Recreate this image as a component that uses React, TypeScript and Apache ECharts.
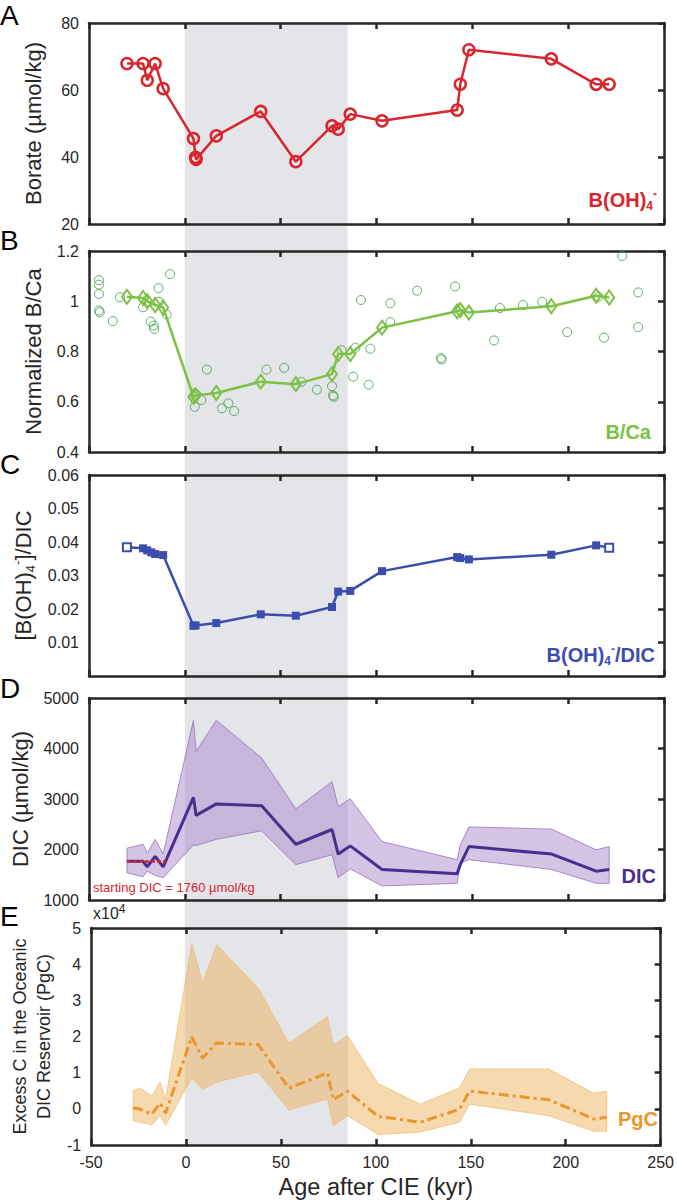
import React, { useEffect, useRef } from "react";
import * as echarts from "echarts";

// ---------- shared x axis ----------
const ageMin = -50;
const ageMax = 250;
const ageStep = 50;
const cieShade = [0, 85];

// ---------- Panel A : borate ----------
const borateAge = [-30.2, -21.8, -19.6, -15.5, -11.3, 4.5, 5.6, 5.9, 16.4, 39.6, 57.9, 76.8, 80.0, 86.3, 102.9, 142.1, 143.7, 148.2, 191.2, 214.6, 221.4];
const borate = [67.9, 67.9, 62.9, 67.9, 60.4, 45.5, 39.9, 39.3, 46.3, 53.6, 38.6, 49.3, 48.3, 52.8, 50.8, 54.0, 61.7, 72.0, 69.3, 61.7, 61.7];

// ---------- Panel B : normalized B/Ca ----------
const bcaAge = [-30.2, -21.8, -19.6, -15.5, -11.3, 4.5, 5.6, 16.4, 39.6, 57.9, 76.8, 80.0, 86.3, 102.9, 142.1, 143.7, 148.2, 191.2, 214.6, 221.4];
const bca = [1.018, 1.013, 1.0, 0.985, 0.975, 0.62, 0.625, 0.635, 0.68, 0.67, 0.71, 0.79, 0.79, 0.895, 0.96, 0.965, 0.955, 0.98, 1.022, 1.015];
const bcaRawAge = [-44.8, -44.8, -44.8, -44.8, -44.4, -37.6, -33.8, -21.8, -17.8, -16.2, -16.0, -13.7, -13.5, -9.5, -7.7, 5.2, 5.9, 8.6, 11.5, 19.4, 22.7, 25.7, 42.6, 51.8, 60.8, 68.9, 76.8, 77.3, 77.7, 81.8, 87.8, 89.0, 91.9, 95.9, 96.8, 107.2, 107.2, 121.2, 133.6, 134.0, 141.0, 161.3, 164.4, 176.4, 186.5, 199.5, 215.8, 218.7, 228.2, 236.5, 236.5];
const bcaRaw = [1.084, 1.066, 1.029, 0.963, 0.956, 0.921, 1.016, 0.976, 0.919, 0.903, 0.89, 1.052, 0.998, 0.947, 1.108, 0.58, 0.63, 0.607, 0.728, 0.574, 0.594, 0.563, 0.728, 0.735, 0.679, 0.648, 0.662, 0.625, 0.62, 0.805, 0.7, 0.815, 1.005, 0.668, 0.811, 0.992, 0.917, 1.042, 0.774, 0.768, 1.059, 0.844, 0.973, 0.985, 0.998, 0.877, 1.018, 0.855, 1.18, 1.035, 0.897];

// ---------- Panel C : [B(OH)4-]/DIC ----------
const ratioAge = [-30.2, -21.8, -19.6, -17.5, -15.5, -11.3, 4.5, 5.6, 16.4, 39.6, 57.9, 76.8, 80.0, 86.3, 102.9, 142.1, 143.7, 148.2, 191.2, 214.6, 221.4];
const ratio = [0.0384, 0.0381, 0.0375, 0.0369, 0.0364, 0.0361, 0.015, 0.0151, 0.0158, 0.0184, 0.018, 0.0206, 0.0252, 0.0254, 0.0313, 0.0355, 0.0352, 0.0348, 0.0362, 0.039, 0.0383];

// ---------- Panel D : DIC ----------
const dicAge = [-30.2, -21.8, -19.6, -15.5, -11.3, 4.5, 5.9, 16.4, 40.1, 57.9, 76.8, 80.0, 86.3, 102.9, 142.1, 143.7, 148.2, 191.4, 214.6, 221.4];
const dicMean = [1766, 1766, 1656, 1864, 1656, 3032, 2675, 2903, 2864, 2104, 2396, 1909, 2071, 1604, 1519, 1701, 2058, 1909, 1571, 1604];
const dicUpper = [2026, 2104, 1929, 2201, 1916, 4558, 3942, 4558, 3812, 2805, 3344, 2851, 3006, 2156, 1799, 2091, 2448, 2403, 1994, 2058];
const dicLower = [1539, 1461, 1571, 1487, 1442, 2091, 2078, 2201, 2370, 1701, 1896, 1442, 1617, 1279, 1331, 1734, 1799, 1604, 1331, 1331];
const startDicAge = [-30.2, -10];
const startDic = [1760, 1760];

// ---------- Panel E : excess C (x10^4 PgC) ----------
const pgcAge = [-27.9, -24.7, -18.0, -13.6, -10.8, 3.0, 8.7, 16.1, 38.0, 54.1, 74.5, 77.6, 85.0, 101.2, 123.4, 144.1, 149.3, 191.1, 214.8, 221.6];
const pgcMean = [0.02, 0.0, -0.15, 0.16, -0.12, 1.99, 1.4, 1.82, 1.78, 0.57, 0.99, 0.25, 0.49, -0.21, -0.37, -0.01, 0.49, 0.25, -0.28, -0.23];
const pgcUpper = [0.49, 0.58, 0.36, 0.74, 0.25, 4.57, 3.48, 4.54, 3.34, 1.81, 2.55, 1.76, 2.03, 0.7, 0.13, 0.58, 1.1, 1.1, 0.43, 0.49];
const pgcLower = [-0.32, -0.37, -0.44, -0.19, -0.46, 0.86, 0.54, 0.74, 1.02, -0.03, 0.27, -0.46, -0.19, -0.71, -0.64, -0.37, 0.13, -0.19, -0.62, -0.62];

// ---------- y axis ranges ----------
const yRanges = [
  { min: 20, max: 80, step: 20 },
  { min: 0.4, max: 1.2, step: 0.2 },
  { min: 0, max: 0.06, step: 0.01 },
  { min: 1000, max: 5000, step: 1000 },
  { min: -1, max: 5, step: 1 },
];

// ---------- styling / layout ----------
const FONT = "'Liberation Sans', Arial, Helvetica, sans-serif";
const INK = "#262626";
const RED = "#d9262e";
const GREEN = "#7cc044";
const GREEN_DARK = "#3a9a42";
const BLUE = "#3c4ead";
const PURPLE = "#4b2d8e";
const ORANGE = "#e9962b";
const SHADE = "#e3e5e8";

const layout = [
  { top: 23, height: 201, name: "Borate (µmol/kg)", gap: 44, size: 22 },
  { top: 251, height: 201, name: "Normalized B/Ca", gap: 44, size: 22 },
  { top: 475, height: 201, name: "{t|[B(OH)}{sub|4}{sup|-}{t|]/DIC}", gap: 44, size: 22 },
  { top: 698, height: 202, name: "DIC (µmol/kg)", gap: 44, size: 22 },
  { top: 928, height: 217, name: "Excess C in the Oceanic\nDIC Reservoir (PgC)", gap: 24, size: 18 },
];
const LEFT = 89;
const WIDTH = 575;

const pairs = (xs: number[], ys: number[]) => xs.map((x, i) => [x, ys[i]]);

function band(xs: number[], up: number[], lo: number[], fill: string, stroke: string, idx: number) {
  return {
    type: "custom",
    xAxisIndex: idx * 2,
    yAxisIndex: idx * 2,
    silent: true,
    z: 1,
    data: xs.map((x, i) => [x, up[i], lo[i]]),
    encode: { x: 0, y: [1, 2] },
    renderItem: (params: any, api: any) => {
      if (params.dataIndex !== 0) return null;
      const pts: number[][] = [];
      xs.forEach((x, i) => pts.push(api.coord([x, up[i]])));
      for (let i = xs.length - 1; i >= 0; i--) pts.push(api.coord([xs[i], lo[i]]));
      return { type: "polygon", shape: { points: pts }, style: { fill, stroke, lineWidth: 1 } };
    },
  };
}

export default function App() {
  const ref = useRef<HTMLDivElement>(null);

  useEffect(() => {
    document.body.style.margin = "0";
    const chart = echarts.init(ref.current!, null, { renderer: "svg" });

    const grid = layout.map((l) => ({ left: LEFT, width: WIDTH, top: l.top, height: l.height }));
    const frameLine = { show: true, onZero: false, lineStyle: { color: INK, width: 2.5 } };
    const xAxis: any[] = [];
    const yAxis: any[] = [];
    layout.forEach((l, i) => {
      const last = i === layout.length - 1;
      const baseX = {
        type: "value",
        gridIndex: i,
        min: ageMin,
        max: ageMax,
        interval: ageStep,
        splitLine: { show: false },
        axisLine: frameLine,
        axisTick: { show: true, inside: true, length: 6, lineStyle: { color: INK, width: 2.5 } },
      };
      xAxis.push({
        ...baseX,
        position: "bottom",
        axisLabel: { show: last, fontSize: 16, color: INK, fontFamily: FONT, margin: 9 },
        name: last ? "Age after CIE (kyr)" : "",
        nameLocation: "middle",
        nameGap: 30,
        nameTextStyle: { fontSize: 23.5, color: INK, fontFamily: FONT },
      });
      xAxis.push({ ...baseX, position: "top", axisLabel: { show: false } });
      const r = yRanges[i];
      const baseY = {
        type: "value",
        gridIndex: i,
        min: r.min,
        max: r.max,
        interval: r.step,
        splitLine: { show: false },
        axisLine: frameLine,
      };
      yAxis.push({
        ...baseY,
        position: "left",
        axisTick: { show: false },
        axisLabel: {
          fontSize: 16,
          color: INK,
          fontFamily: FONT,
          margin: 10,
          showMinLabel: i !== 2,
          formatter: (v: number) => (r.step >= 1 ? v.toFixed(0) : String(Number(v.toFixed(4)))),
        },
        name: l.name,
        nameLocation: "middle",
        nameRotate: 90,
        nameGap: l.gap,
        nameTextStyle: {
          fontSize: l.size,
          color: INK,
          fontFamily: FONT,
          lineHeight: 24,
          rich: {
            t: { fontSize: 22, color: INK, fontFamily: FONT, lineHeight: 26 },
            sub: { fontSize: 13, color: INK, fontFamily: FONT, verticalAlign: "bottom", lineHeight: 12 },
            sup: { fontSize: 13, color: INK, fontFamily: FONT, verticalAlign: "top", lineHeight: 12 },
          },
        },
      });
      yAxis.push({
        ...baseY,
        position: "right",
        axisTick: { show: true, inside: true, length: 6, lineStyle: { color: INK, width: 2.5 } },
        axisLabel: { show: false },
      });
    });

    const series: any[] = [
      // A
      {
        type: "line",
        xAxisIndex: 0,
        yAxisIndex: 0,
        data: pairs(borateAge, borate),
        symbol: "circle",
        symbolSize: 11,
        lineStyle: { color: RED, width: 2.5 },
        itemStyle: { color: "rgba(0,0,0,0)", borderColor: RED, borderWidth: 2.5 },
        z: 3,
      },
      // B scatter
      {
        type: "scatter",
        xAxisIndex: 2,
        yAxisIndex: 2,
        data: pairs(bcaRawAge, bcaRaw),
        symbol: "circle",
        symbolSize: 9,
        itemStyle: { color: "rgba(0,0,0,0)", borderColor: GREEN_DARK, borderWidth: 1 },
      },
      // B line
      {
        type: "line",
        xAxisIndex: 2,
        yAxisIndex: 2,
        data: pairs(bcaAge, bca),
        symbol: "diamond",
        symbolSize: [10, 14],
        lineStyle: { color: GREEN, width: 2.5 },
        itemStyle: { color: "rgba(0,0,0,0)", borderColor: GREEN, borderWidth: 2 },
        z: 3,
      },
      // C
      {
        type: "line",
        xAxisIndex: 4,
        yAxisIndex: 4,
        data: ratioAge.map((x, i) => {
          const open = i === 0 || i === ratioAge.length - 1;
          return open
            ? { value: [x, ratio[i]], itemStyle: { color: "#ffffff", borderColor: BLUE, borderWidth: 2 } }
            : { value: [x, ratio[i]] };
        }),
        symbol: "rect",
        symbolSize: 8,
        lineStyle: { color: BLUE, width: 2.5 },
        itemStyle: { color: BLUE },
        z: 3,
      },
      // D band + mean + start
      band(dicAge, dicUpper, dicLower, "rgba(165,125,200,0.45)", "rgba(150,115,190,0.8)", 3),
      {
        type: "line",
        xAxisIndex: 6,
        yAxisIndex: 6,
        data: pairs(dicAge, dicMean),
        symbol: "none",
        lineStyle: { color: PURPLE, width: 3 },
        z: 3,
      },
      {
        type: "line",
        xAxisIndex: 6,
        yAxisIndex: 6,
        data: pairs(startDicAge, startDic),
        symbol: "none",
        lineStyle: { color: RED, width: 2.5, type: [4, 2] },
        z: 4,
      },
      // E band + mean
      band(pgcAge, pgcUpper, pgcLower, "rgba(238,170,80,0.45)", "rgba(240,185,110,0.7)", 4),
      {
        type: "line",
        xAxisIndex: 8,
        yAxisIndex: 8,
        data: pairs(pgcAge, pgcMean),
        symbol: "none",
        lineStyle: { color: ORANGE, width: 3, type: [10, 4, 3, 4] },
        z: 3,
      },
    ];

    chart.setOption({
      animation: false,
      grid,
      xAxis,
      yAxis,
      series,
    });

    // shaded CIE interval, spanning all panels (positions from the axes' own scales)
    const sx0 = chart.convertToPixel({ xAxisIndex: 0 }, cieShade[0]) as number;
    const sx1 = chart.convertToPixel({ xAxisIndex: 0 }, cieShade[1]) as number;
    const sy0 = chart.convertToPixel({ yAxisIndex: 0 }, yRanges[0].max) as number;
    const sy1 = chart.convertToPixel({ yAxisIndex: 8 }, yRanges[4].min) as number;

    const letter = (t: string, y: number) => ({
      type: "text",
      x: 0,
      y,
      z: 10,
      style: { text: t, font: `28px ${FONT}`, fill: "#000", align: "left", verticalAlign: "middle" },
    });
    const tagRich = (size: number, color: string) => ({
      a: { fontSize: size, fontWeight: "bold", fill: color, color, fontFamily: FONT, lineHeight: 24 },
      sub: { fontSize: 12, fontWeight: "bold", fill: color, color, fontFamily: FONT, verticalAlign: "bottom", lineHeight: 10 },
      sup: { fontSize: 12, fontWeight: "bold", fill: color, color, fontFamily: FONT, verticalAlign: "top", lineHeight: 10 },
    });
    const tag = (text: string, x: number, y: number, color: string) => ({
      type: "text",
      x,
      y,
      z: 10,
      style: { text, rich: tagRich(20, color), align: "right", verticalAlign: "middle", fill: color },
    });

    chart.setOption({
      graphic: {
        elements: [
          {
            type: "rect",
            z: -10,
            silent: true,
            shape: { x: sx0, y: sy0, width: sx1 - sx0, height: sy1 - sy0 },
            style: { fill: SHADE },
          },
          letter("A", 15),
          letter("B", 240),
          letter("C", 464),
          letter("D", 688),
          letter("E", 916),
          tag("{a|B(OH)}{sub|4}{sup|-}", 657, 200, RED),
          tag("{a|B/Ca}", 651, 432, GREEN),
          tag("{a|B(OH)}{sub|4}{sup|-}{a|/DIC}", 655, 655, BLUE),
          tag("{a|DIC}", 656, 876, PURPLE),
          tag("{a|PgC}", 658, 1119, ORANGE),
          {
            type: "text",
            x: 93,
            y: 887,
            z: 10,
            style: { text: "starting DIC = 1760 µmol/kg", font: `13px ${FONT}`, fill: RED, align: "left", verticalAlign: "middle" },
          },
          {
            type: "text",
            x: 93,
            y: 913,
            z: 10,
            style: {
              text: "{a|x10}{sup|4}",
              rich: {
                a: { fontSize: 16, fill: INK, color: INK, fontFamily: FONT, lineHeight: 20 },
                sup: { fontSize: 12, fill: INK, color: INK, fontFamily: FONT, verticalAlign: "top", lineHeight: 10 },
              },
              align: "left",
              verticalAlign: "middle",
            },
          },
        ],
      },
    });

    return () => chart.dispose();
  }, []);

  return <div ref={ref} style={{ width: 677, height: 1200 }} />;
}
